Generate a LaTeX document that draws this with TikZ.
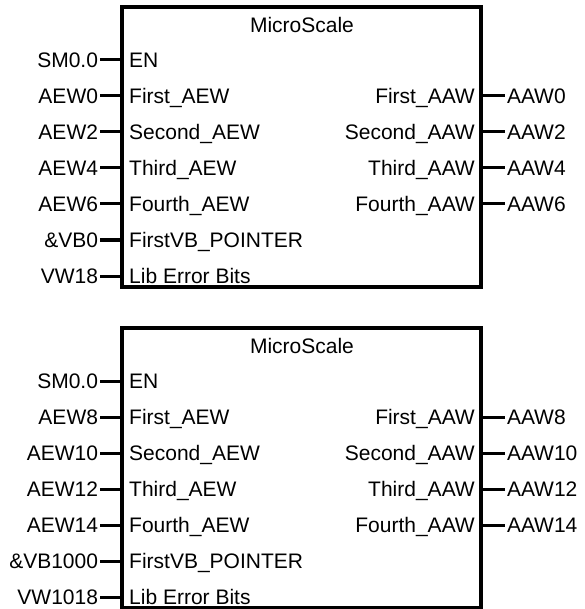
\documentclass[tikz,border=0pt]{standalone}
\usepackage{fontspec}
\setmainfont{Liberation Sans}
\usetikzlibrary{calc}
\newcommand*{\RowStep}{36}

\begin{document}
\begin{tikzpicture}
	[x=1pt,y=-1pt,
	 every node/.style={font=\fontsize{21}{24}\selectfont, inner sep=0pt, text height=15pt, text depth=0pt},
	 block/.style={draw, line width=3.2pt, minimum width=359pt, minimum height=280pt},
	 wire/.style={line width=3pt},
	 extlabel/.style={outer sep=2pt}];
	\useasboundingbox (0,0) rectangle (584,609);

	\foreach \blk/\dy/\ins/\outs in
		{1/0/{SM0.0,AEW0,AEW2,AEW4,AEW6,\&VB0,VW18}/{AAW0,AAW2,AAW4,AAW6},
		 2/321/{SM0.0,AEW8,AEW10,AEW12,AEW14,\&VB1000,VW1018}/{AAW8,AAW10,AAW12,AAW14}}
	{
		%Box and title
		\node[block] (box\blk) at (301.5,147+\dy) {};
		\node (title\blk) at (302,25+\dy) {MicroScale};

		%Inputs
		\foreach \pin [count=\i from 0] in {EN,First\_AEW,Second\_AEW,Third\_AEW,Fourth\_AEW,FirstVB\_POINTER,Lib Error Bits}
		{
			\node[anchor=west] (pin\blk\i) at (129,60+\dy+\i*\RowStep) {\pin};
		}
		\foreach \lbl [count=\i from 0] in \ins
		{
			\node[extlabel, anchor=east] (in\blk\i) at (100,60+\dy+\i*\RowStep) {\lbl};
			\coordinate (inend\blk\i) at (box\blk.west |- in\blk\i);
			\draw[wire] (in\blk\i.east) -- (inend\blk\i);
		}

		%Outputs
		\foreach \pin [count=\i from 1] in {First\_AAW,Second\_AAW,Third\_AAW,Fourth\_AAW}
		{
			\node[anchor=east] (opin\blk\i) at (475,60+\dy+\i*\RowStep) {\pin};
		}
		\foreach \lbl [count=\i from 1] in \outs
		{
			\node[extlabel, anchor=west] (out\blk\i) at (505,60+\dy+\i*\RowStep) {\lbl};
			\coordinate (outend\blk\i) at (box\blk.east |- out\blk\i);
			\draw[wire] (outend\blk\i) -- (out\blk\i.west);
		}
	}
\end{tikzpicture}
\end{document}
